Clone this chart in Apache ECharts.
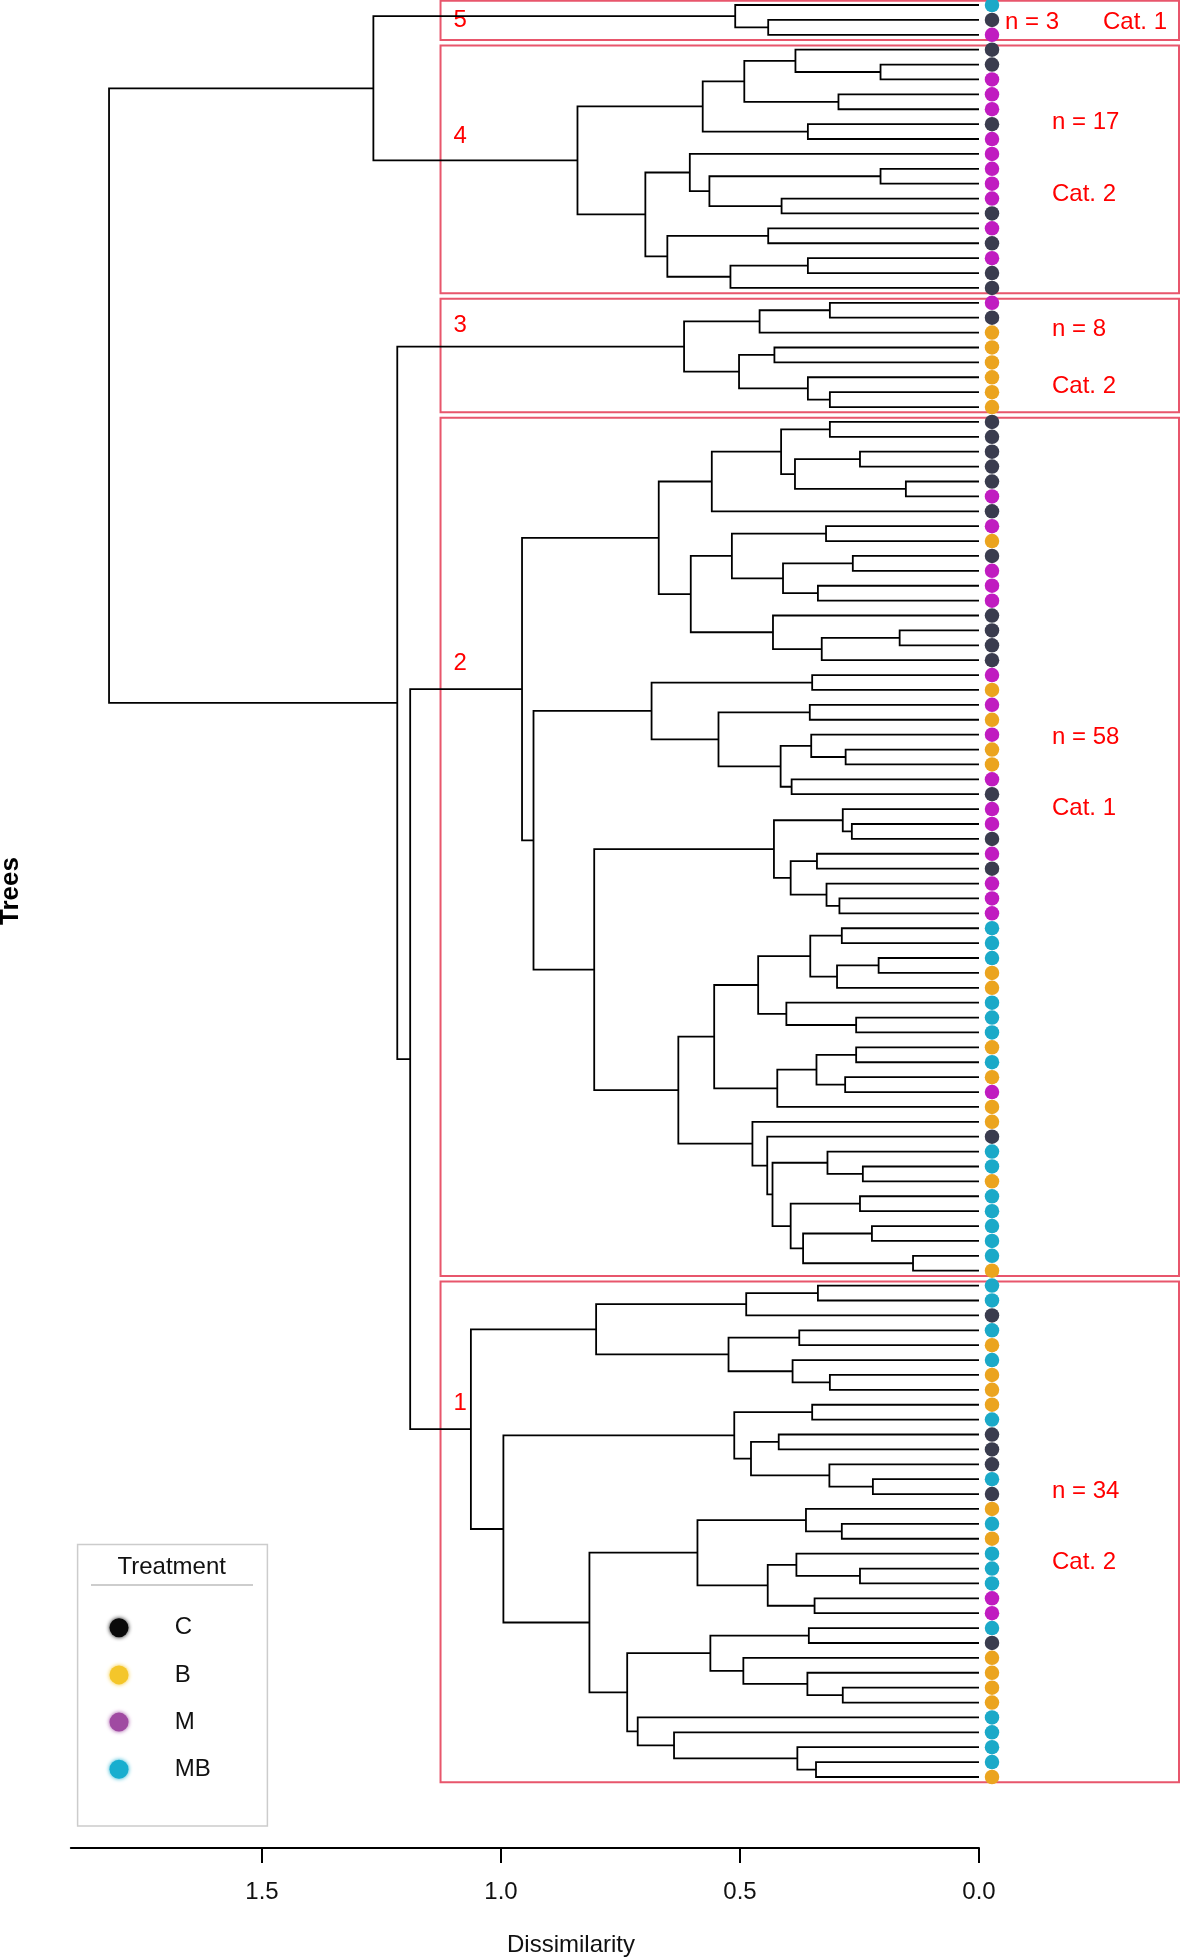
<!DOCTYPE html>
<html><head><meta charset="utf-8">
<script src="https://cdn.jsdelivr.net/npm/echarts@6/dist/echarts.min.js"></script>
<style>html,body{margin:0;padding:0;background:#fff}#c{width:1181px;height:1959px}</style>
</head><body><div id="c"></div>
<script>
// ---------------- DATA ----------------
const treatments = ['C', 'B', 'M', 'MB'];

// treatment of each leaf, top to bottom
const leafTreatment = [
  'MB','C','M',
  'C','C','M','M','M','C','M','M','M','M','M','C','M','C','M','C','C',
  'M','C','B','B','B','B','B','B',
  'C','C','C','C','C','M','C','M','B','C','M','M','M','C','C','C','C','M','B','M','B','M',
  'B','B','M','C','M','M','C','M','C','M','M','M','MB','MB','MB','B','B','MB','MB','MB',
  'B','MB','B','M','B','B','C','MB','MB','B','MB','MB','MB','MB','MB','B',
  'MB','MB','C','MB','B','MB','B','B','B','MB','C','C','C','MB','C','B','MB','B',
  'MB','MB','MB','M','M','MB','C','B','B','B','B','MB','MB','MB','MB','B'
];

// merges: [name, child A, child B, dissimilarity]; numbers are leaf indices
const merges = [
  ['c5a',1,2,0.441],['c5',0,'c5a',0.510],
  ['A4',4,5,0.206],['B4',3,'A4',0.384],['C4',6,7,0.294],['D4','B4','C4',0.491],['E4',8,9,0.358],['F4','D4','E4',0.578],
  ['G4',11,12,0.206],['H4',13,14,0.413],['I4','G4','H4',0.564],['J4',10,'I4',0.605],
  ['K4',15,16,0.441],['L4',17,18,0.358],['M4','L4',19,0.520],['N4','K4','M4',0.652],
  ['O4','J4','N4',0.698],['c4','F4','O4',0.840],
  ['c54','c5','c4',1.267],
  ['Q3',20,21,0.312],['R3','Q3',22,0.459],['S3',23,24,0.428],['T3',26,27,0.312],['U3',25,'T3',0.358],['V3','S3','U3',0.502],['c3','R3','V3',0.617],
  ['a1',28,29,0.312],['a2',30,31,0.249],['a3',32,33,0.153],['a4','a2','a3',0.385],['a5','a1','a4',0.414],['a6','a5',34,0.559],
  ['b1',35,36,0.320],['b2',37,38,0.264],['b3',39,40,0.337],['b4','b2','b3',0.410],['b5','b1','b4',0.517],
  ['bc1',42,43,0.166],['bc2','bc1',44,0.329],['bc3',41,'bc2',0.431],['b6','b5','bc3',0.603],
  ['d1','a6','b6',0.670],
  ['g1',45,46,0.349],['g2',47,48,0.354],['g3',50,51,0.279],['g4',49,'g3',0.351],['g5',52,53,0.392],['g6','g4','g5',0.415],['g7','g2','g6',0.545],['g8','g1','g7',0.685],
  ['h1',55,56,0.266],['h2',54,'h1',0.285],['h3',57,58,0.339],['h4',60,61,0.292],['h5',59,'h4',0.319],['h6','h3','h5',0.394],['h7','h2','h6',0.429],
  ['j1',62,63,0.287],['j2',64,65,0.210],['j3','j2',66,0.297],['j4','j1','j3',0.353],
  ['k1',68,69,0.257],['k2',67,'k1',0.403],['j5','j4','k2',0.462],
  ['l1',70,71,0.257],['l2',72,73,0.280],['l3','l1','l2',0.340],['l4','l3',74,0.422],['l5','j5','l4',0.554],
  ['m1',78,79,0.243],['m2',77,'m1',0.317],['m3',80,81,0.249],['m4',82,83,0.224],['m5',84,85,0.138],['m6','m4','m5',0.368],
  ['m7','m3','m6',0.394],['m8','m2','m7',0.432],['m9',76,'m8',0.443],['m10',75,'m9',0.474],
  ['n2','l5','m10',0.629],['i2','h7','n2',0.805],['f2','g8','i2',0.932],['c2','d1','f2',0.956],
  ['p1',86,87,0.337],['p2','p1',88,0.487],['p3',89,90,0.376],['p4',92,93,0.312],['p5',91,'p4',0.390],['p6','p3','p5',0.524],['p7','p2','p6',0.801],
  ['q1',94,95,0.349],['q2',96,97,0.419],['q3',99,100,0.222],['q4',98,'q3',0.313],['q5','q2','q4',0.477],['q6','q1','q5',0.512],
  ['s1',102,103,0.287],['s2',101,'s1',0.362],['s3',105,106,0.249],['s4',104,'s3',0.382],['s5',107,108,0.344],['s6','s4','s5',0.442],['s7','s2','s6',0.589],
  ['t1',109,110,0.356],['t2',113,114,0.285],['t3',112,'t2',0.359],['t4',111,'t3',0.493],['t5','t1','t4',0.562],
  ['u1',118,119,0.341],['u2',117,'u1',0.380],['u3',116,'u2',0.638],['u4',115,'u3',0.714],['t6','t5','u4',0.736],
  ['s8','s7','t6',0.815],['qr','q6','s8',0.995],['c1','p7','qr',1.063],
  ['c21','c2','c1',1.190],['c321','c3','c21',1.217],['root','c54','c321',1.820]
];

const clusterNumbers = [5, 4, 3, 2, 1];
const clusterRoots = ['c5', 'c4', 'c3', 'c2', 'c1'];
const clusterCats = ['Cat. 1', 'Cat. 2', 'Cat. 2', 'Cat. 1', 'Cat. 2'];
const tickValues = [0, 0.5, 1.0, 1.5];

// ---------------- STYLE / LAYOUT ----------------
const FONT = 'Liberation Sans, Arial, Helvetica, sans-serif';
const leafColors = { C: '#3a3c4e', B: '#eba41f', M: '#c01cc0', MB: '#1ba9c8' };
const legendColors = { C: '#0a0a0a', B: '#f4c62a', M: '#a04aa2', MB: '#18aecf' };
const boxColor = '#e8566c';
// label placement (in leaf-row units): [number label row, "n =" row, "Cat." row]
const labelRows = [[1.0, 1.2, 1.2], [8.8, 7.9, 12.7], [21.5, 21.8, 25.6], [44.2, 49.2, 53.95], [93.9, 99.8, 104.6]];

// ---------------- TREE GEOMETRY ----------------
const pos = {};
function info(ref) {
  return typeof ref === 'number' ? { y: ref, h: 0, lo: ref, hi: ref } : pos[ref];
}
const treeLines = merges.map(([name, a, b, h]) => {
  const A = info(a), B = info(b);
  pos[name] = { y: (A.y + B.y) / 2, h: h, lo: Math.min(A.lo, B.lo), hi: Math.max(A.hi, B.hi) };
  return { coords: [[A.h, A.y], [h, A.y], [h, B.y], [B.h, B.y]] };
});
const heightsDesc = merges.map(m => m[3]).sort((x, y) => y - x);
const k = clusterRoots.length;
const cutHeight = (heightsDesc[k - 2] + heightsDesc[k - 1]) / 2;
const clusterData = clusterRoots.map((r, i) => [cutHeight, pos[r].lo, pos[r].hi, i]);

const leafData = leafTreatment.map((t, i) => ({ value: [0, i], itemStyle: { color: leafColors[t] } }));

// ---------------- CHART ----------------
const chart = echarts.init(document.getElementById('c'), null, { renderer: 'canvas' });

const legendTop = 1627.7, legendGap = 47.2;
const graphics = [
  { type: 'rect', shape: { x: 77.6, y: 1544.5, width: 189.8, height: 281.5 }, style: { fill: 'none', stroke: '#cccccc', lineWidth: 1.5 } },
  { type: 'text', style: { text: 'Treatment', x: 171.7, y: 1567, align: 'center', verticalAlign: 'middle', fontSize: 24, fontFamily: FONT, fill: '#111' } },
  { type: 'line', shape: { x1: 91, y1: 1585, x2: 253, y2: 1585 }, style: { stroke: '#bdbdbd', lineWidth: 1.5 } },
  { type: 'text', rotation: Math.PI / 2, x: 11, y: 891, style: { text: 'Trees', align: 'center', verticalAlign: 'middle', fontSize: 26, fontWeight: 'bold', fontFamily: FONT, fill: '#000' } },
  { type: 'text', style: { text: 'Dissimilarity', x: 571, y: 1945, align: 'center', verticalAlign: 'middle', fontSize: 24, fontFamily: FONT, fill: '#111' } }
];
treatments.forEach((t, i) => {
  const y = legendTop + i * legendGap;
  graphics.push({ type: 'circle', shape: { cx: 119, cy: y, r: 9.5 }, style: { fill: legendColors[t], shadowBlur: 4, shadowColor: legendColors[t] } });
  graphics.push({ type: 'text', style: { text: t, x: 174.7, y: y, align: 'left', verticalAlign: 'middle', fontSize: 24, fontFamily: FONT, fill: '#111' } });
});

const option = {
  animation: false,
  backgroundColor: '#ffffff',
  grid: { left: 70.8, right: 202, top: 5, bottom: 182 },
  xAxis: {
    type: 'value', min: 0, max: 1.9, inverse: true, position: 'bottom', offset: 71,
    splitLine: { show: false },
    axisLine: { show: true, onZero: false, lineStyle: { color: '#000', width: 2 } },
    axisTick: { show: true, customValues: tickValues, length: 15, lineStyle: { color: '#000', width: 2 } },
    axisLabel: { show: true, customValues: tickValues, margin: 32, fontSize: 24, fontFamily: FONT, color: '#111',
      formatter: v => Number(v).toFixed(1) }
  },
  yAxis: { type: 'value', min: 0, max: leafTreatment.length - 1, inverse: true, show: false },
  graphic: graphics,
  series: [
    {
      type: 'custom', coordinateSystem: 'cartesian2d', clip: false, silent: true, z: 1,
      data: clusterData,
      renderItem: function (params, api) {
        const i = api.value(3);
        const p0 = api.coord([api.value(0), api.value(1) - 0.28]);
        const p1 = api.coord([0, api.value(2) + 0.35]);
        const right = p1[0] + 200;
        const rows = labelRows[i];
        const n = api.value(2) - api.value(1) + 1;
        const rowY = r => api.coord([0, r])[1];
        const nX = i === 0 ? p1[0] + 26 : p1[0] + 73;
        const catX = i === 0 ? p1[0] + 124 : p1[0] + 73;
        const txt = (text, x, y) => ({ type: 'text', style: { text: text, x: x, y: y, align: 'left', verticalAlign: 'middle', fontSize: 24, fontFamily: FONT, fill: '#ff0000' } });
        return {
          type: 'group',
          children: [
            { type: 'rect', shape: { x: p0[0], y: p0[1], width: right - p0[0], height: p1[1] - p0[1] },
              style: { fill: 'none', stroke: boxColor, lineWidth: 2 } },
            txt(String(clusterNumbers[i]), p0[0] + 13, rowY(rows[0])),
            txt('n = ' + n, nX, rowY(rows[1])),
            txt(clusterCats[i], catX, rowY(rows[2]))
          ]
        };
      }
    },
    {
      type: 'lines', coordinateSystem: 'cartesian2d', polyline: true, silent: true, z: 3,
      lineStyle: { color: '#000', width: 1.8, opacity: 1 },
      data: treeLines
    },
    {
      type: 'scatter', clip: false, silent: true, z: 4,
      symbol: 'circle', symbolSize: 14.5, symbolOffset: [13, 0],
      itemStyle: { opacity: 1 },
      data: leafData
    }
  ]
};
chart.setOption(option);
</script>
</body></html>
